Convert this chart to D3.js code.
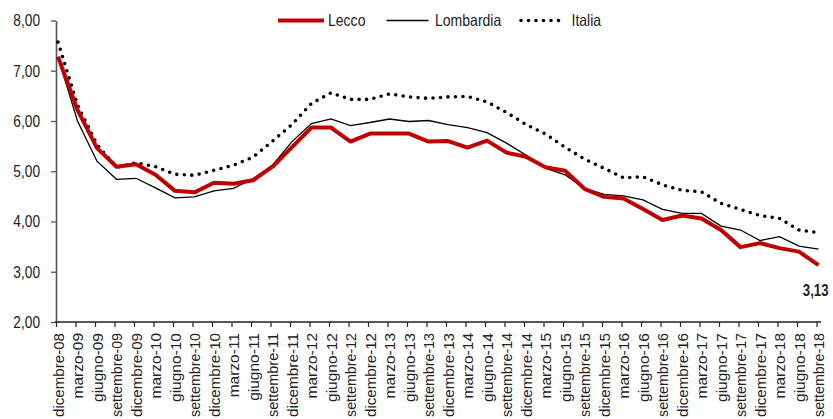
<!DOCTYPE html>
<html>
<head>
<meta charset="utf-8">
<script src="https://cdn.jsdelivr.net/npm/d3@7"></script>
<style>
  body { margin: 0; background: #fff; }
  svg { display: block; }
  text { font-family: "Liberation Sans", Arial, sans-serif; fill: #222; }
</style>
</head>
<body>
<svg id="chart" width="833" height="419"></svg>
<script>
const categories = [
  'dicembre-08', 'marzo-09', 'giugno-09', 'settembre-09', 'dicembre-09',
  'marzo-10', 'giugno-10', 'settembre-10', 'dicembre-10',
  'marzo-11', 'giugno-11', 'settembre-11', 'dicembre-11',
  'marzo-12', 'giugno-12', 'settembre-12', 'dicembre-12',
  'marzo-13', 'giugno-13', 'settembre-13', 'dicembre-13',
  'marzo-14', 'giugno-14', 'settembre-14', 'dicembre-14',
  'marzo-15', 'giugno-15', 'settembre-15', 'dicembre-15',
  'marzo-16', 'giugno-16', 'settembre-16', 'dicembre-16',
  'marzo-17', 'giugno-17', 'settembre-17', 'dicembre-17',
  'marzo-18', 'giugno-18', 'settembre-18'
];

const lecco = [
  7.28, 6.22, 5.46, 5.09, 5.14, 4.93, 4.61, 4.58, 4.77, 4.75,
  4.82, 5.09, 5.48, 5.87, 5.87, 5.59, 5.75, 5.75, 5.75, 5.59,
  5.60, 5.47, 5.61, 5.37, 5.29, 5.08, 5.01, 4.65, 4.49, 4.46,
  4.25, 4.03, 4.12, 4.06, 3.83, 3.49, 3.57, 3.47, 3.40, 3.13
];

const lombardia = [
  7.27, 6.00, 5.20, 4.84, 4.86, 4.67, 4.47, 4.49, 4.61, 4.66,
  4.85, 5.12, 5.59, 5.95, 6.04, 5.91, 5.97, 6.04, 5.99, 6.01,
  5.93, 5.87, 5.77, 5.56, 5.32, 5.06, 4.93, 4.66, 4.54, 4.51,
  4.43, 4.24, 4.16, 4.16, 3.91, 3.83, 3.62, 3.70, 3.51, 3.45
];

const italia = [
  7.57, 6.32, 5.53, 5.08, 5.17, 5.09, 4.94, 4.92, 5.02, 5.12,
  5.28, 5.60, 5.93, 6.35, 6.56, 6.43, 6.43, 6.54, 6.48, 6.45,
  6.48, 6.49, 6.38, 6.17, 5.93, 5.74, 5.48, 5.24, 5.06, 4.87,
  4.89, 4.73, 4.62, 4.59, 4.36, 4.24, 4.12, 4.06, 3.83, 3.78
];

const yTicks = [2, 3, 4, 5, 6, 7, 8];

const svg = d3.select('#chart');

const x = d3.scalePoint()
  .domain(categories)
  .range([58, 818.5]);

const y = d3.scaleLinear()
  .domain([2, 8])
  .range([322, 20.5]);

const fmt = d => d.toFixed(2).replace('.', ',');

// squeeze text horizontally, like the narrow font of the original
function narrow(sel, factor, maxLen) {
  sel.each(function () {
    const len = this.getComputedTextLength();
    let target = len * factor;
    if (maxLen && target > maxLen) target = maxLen;
    if (target < len) {
      d3.select(this)
        .attr('textLength', target)
        .attr('lengthAdjust', 'spacingAndGlyphs');
    }
  });
}

// y axis
const yAxis = svg.append('g')
  .attr('transform', 'translate(56,0)')
  .call(d3.axisLeft(y).tickValues(yTicks).tickFormat(fmt).tickSize(5).tickSizeOuter(0));
yAxis.select('.domain').attr('stroke', '#555').attr('stroke-width', 1.6);
yAxis.selectAll('.tick line').attr('stroke', '#555').attr('stroke-width', 1.3);
yAxis.selectAll('.tick text')
  .attr('x', -16)
  .style('font-size', '16.5px')
  .attr('fill', '#222')
  .call(narrow, 0.83);

// x axis
const xAxis = svg.append('g')
  .attr('transform', `translate(0,${y(2)})`)
  .call(d3.axisBottom(x).tickSize(5).tickSizeOuter(0));
xAxis.select('.domain')
  .attr('d', 'M55,0H821')
  .attr('stroke', '#222').attr('stroke-width', 1.4);
xAxis.selectAll('.tick line')
  .attr('x1', -2).attr('x2', -2)
  .attr('stroke', '#222').attr('stroke-width', 1.2);
xAxis.selectAll('.tick text')
  .attr('transform', 'rotate(-90)')
  .attr('text-anchor', 'end')
  .attr('x', -11)
  .attr('y', 0)
  .attr('dy', '0.35em')
  .style('font-size', '15.5px')
  .attr('fill', '#222')
  .call(narrow, 1, 84);

const line = d3.line()
  .x((d, i) => x(categories[i]))
  .y(d => y(d));

// Italia (dotted)
svg.append('path')
  .datum(italia)
  .attr('fill', 'none')
  .attr('stroke', '#000')
  .attr('stroke-width', 3.6)
  .attr('stroke-linecap', 'round')
  .attr('stroke-dasharray', '0,7.5')
  .attr('d', line);

// Lombardia
svg.append('path')
  .datum(lombardia)
  .attr('fill', 'none')
  .attr('stroke', '#000')
  .attr('stroke-width', 1.3)
  .attr('d', line);

// Lecco
svg.append('path')
  .datum(lecco)
  .attr('fill', 'none')
  .attr('stroke', '#c00000')
  .attr('stroke-width', 4)
  .attr('stroke-linejoin', 'round')
  .attr('d', line);

// last value label (scaled group so the box stays inside the picture)
const last = lecco.length - 1;
svg.append('g')
  .attr('transform', `translate(${x(categories[last]) + 10},${y(lecco[last]) + 31}) scale(0.8,1)`)
  .append('text')
  .attr('text-anchor', 'end')
  .style('font-size', '16.5px')
  .style('font-weight', 'bold')
  .text(fmt(lecco[last]));

// legend
const legend = [
  { name: 'Lecco', x1: 278, x2: 324, tx: 328, stroke: '#c00000', w: 4, dash: null },
  { name: 'Lombardia', x1: 386.5, x2: 428.5, tx: 435, stroke: '#000', w: 1.3, dash: null },
  { name: 'Italia', x1: 521, x2: 564, tx: 571.5, stroke: '#000', w: 3.6, dash: '0,7.5' }
];
const lg = svg.append('g').attr('transform', 'translate(0,20.5)');
lg.selectAll('line')
  .data(legend)
  .enter().append('line')
  .attr('x1', d => d.x1)
  .attr('x2', d => d.x2)
  .attr('stroke', d => d.stroke)
  .attr('stroke-width', d => d.w)
  .attr('stroke-linecap', d => d.dash ? 'round' : 'butt')
  .attr('stroke-dasharray', d => d.dash);
lg.selectAll('text')
  .data(legend)
  .enter().append('text')
  .attr('x', d => d.tx)
  .attr('dy', '0.35em')
  .style('font-size', '16.5px')
  .text(d => d.name)
  .call(narrow, 0.85);
</script>
</body>
</html>
